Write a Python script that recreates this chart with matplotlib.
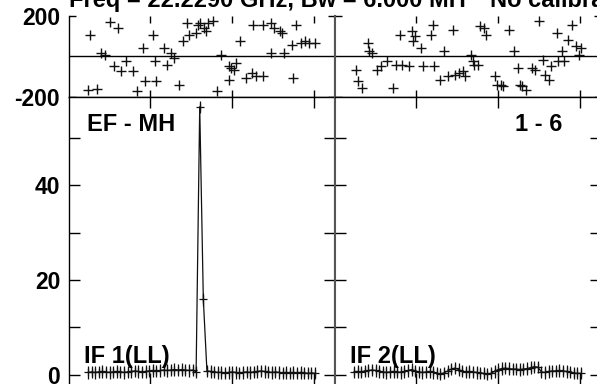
import matplotlib
matplotlib.use("Agg")
import matplotlib.pyplot as plt

plt.rcParams['font.family'] = ['Liberation Sans', 'DejaVu Sans']
plt.rcParams['font.weight'] = 'bold'
plt.rcParams['axes.unicode_minus'] = False

# channel / phase readings, IF 1 (left) and IF 2 (right)
if1_phase_ch = [0.9, 1.6, 3.5, 4.6, 5.7, 7.2, 8.3, 9.4, 10.2, 11.5, 13.6, 14.7, 16.2, 16.8,
                18.9, 19.6, 19.9, 22.1, 22.8, 24.0, 25.0, 26.3, 27.3, 28.4, 28.9, 31.1, 31.6,
                32.1, 33.2, 33.7, 34.2, 35.8, 36.9, 37.9, 40.0, 40.0, 40.6, 41.6, 42.2, 43.2,
                44.8, 46.4, 46.9, 47.5, 49.6, 49.6, 51.7, 51.7, 52.7, 54.3, 54.9, 55.4, 57.5,
                58.0, 58.6, 60.2, 61.2, 62.3, 63.9]
if1_phase = [-164, 107, -161, 16, 8, 167, -49, 139, -74, -25, -74, -172, 41, -123,
             107, -25, -123, 41, -41, 16, -8, -139, 74, 164, 107, 115, 156,
             164, 139, 123, 164, 172, -172, 8, -115, -49, -57, -66, -33, 74,
             -107, -82, 156, -98, -98, 156, 164, 16, 139, 123, 115, 16, 57,
             -107, 156, 66, 74, 66, 66]

if2_phase_ch = [1.6, 2.2, 3.2, 4.8, 5.3, 5.9, 7.5, 8.5, 10.1, 11.7, 12.7, 13.8, 14.3, 16.4,
                17.0, 17.5, 18.0, 19.6, 20.2, 22.3, 22.8, 23.3, 24.9, 26.0, 27.0, 28.6, 29.1,
                30.2, 31.2, 31.8, 33.4, 33.9, 34.4, 35.5, 36.0, 37.1, 37.6, 40.2, 40.8, 41.8,
                42.4, 43.9, 45.5, 46.6, 47.1, 47.6, 48.7, 50.3, 51.3, 52.4, 53.5, 54.0, 55.0,
                55.6, 57.2, 57.7, 58.8, 59.3, 60.4, 61.4, 62.5, 63.5, 64.1]
if2_phase = [-66, -123, -156, 66, 25, 16, -66, -49, -25, -156, -41, 107, -41, -49,
             123, 74, 98, 41, -49, 107, 156, -49, -115, 25, -98, 131, -90,
             -82, -74, -98, 8, -25, -41, -41, 148, 139, 107, -98, -139, -139,
             -148, 131, 25, -57, -139, -148, -164, -57, -66, 172, -16, -90, -115,
             -49, 115, -25, 25, -25, 82, 156, 49, 8, 41]

channels = list(range(1, 65))
if1_amp = [0.5, 0.6, 0.5, 0.6, 0.7, 0.6, 0.5, 0.6, 0.7, 0.6,
           0.5, 0.6, 0.7, 0.8, 0.7, 0.6, 0.7, 0.8, 0.9, 0.8,
           0.9, 1.0, 0.9, 1.0, 1.1, 1.0, 1.1, 1.0, 0.9, 1.0,
           0.6, 56.6, 15.9, 0.8, 0.7, 0.6, 0.5, 0.5, 0.4, 0.5,
           0.6, 0.5, 0.4, 0.5, 0.6, 0.5, 0.6, 0.7, 0.8, 0.7,
           0.6, 0.5, 0.6, 0.5, 0.4, 0.5, 0.4, 0.5, 0.4, 0.5,
           0.4, 0.3, 0.4, 0.3]
if2_amp = [0.6, 0.7, 0.6, 0.8, 0.9, 1.0, 0.9, 0.7, 0.6, 0.5,
           0.6, 0.7, 0.6, 0.5, 0.7, 0.9, 1.1, 0.8, 0.6, 0.5,
           0.6, 0.7, 0.5, 0.3, 0.2, 0.4, 0.8, 1.2, 1.4, 1.1,
           0.8, 0.6, 0.7, 0.6, 0.5, 0.4, 0.3, 0.2, 0.3, 0.7,
           1.1, 1.3, 1.4, 1.3, 1.2, 1.2, 1.1, 1.2, 1.3, 1.5,
           1.7, 1.6, 0.6, 0.5, 0.7, 0.8, 0.8, 0.9, 0.8, 0.7,
           0.6, 0.4, 0.3, 0.3]
amp_err = 1.3

W, H = 597, 384
fig = plt.figure(figsize=(W / 100, H / 100), dpi=100)


def px_axes(x0, y0, x1, y1):
    # pixel box (y from top) -> axes
    return fig.add_axes([x0 / W, 1 - y1 / H, (x1 - x0) / W, (y1 - y0) / H])


xlim = (-4.41, 69.4)
xticks = [18.2, 41.0, 63.8]
divider = '#555555'

panels = [
    (68.5, if1_phase_ch, if1_phase, if1_amp, 'IF 1(LL)'),
    (334.5, if2_phase_ch, if2_phase, if2_amp, 'IF 2(LL)'),
]

for i, (x0, pch, ph, amp, lab) in enumerate(panels):
    x1 = x0 + 266
    axp = px_axes(x0, 15.7, x1, 97)
    axa = px_axes(x0, 97, x1, 384)

    # phase
    axp.plot(pch, ph, ls='none', marker='+', ms=6.5, mew=1.0, color='#111111')
    axp.axhline(0, color='k', lw=1.0)
    axp.set_xlim(*xlim)
    axp.set_ylim(-200, 200)
    axp.set_xticks(xticks)
    axp.set_yticks([-200, 200])
    axp.spines['top'].set_visible(False)
    axp.tick_params(direction='in', length=5, width=1, top=True, right=True,
                    labelbottom=False, labelsize=16.5, pad=6)

    # amplitude
    axa.errorbar(channels, amp, yerr=amp_err, fmt='-', color='#111111', lw=0.9,
                 elinewidth=0.9, capsize=0, marker='+', ms=6, mew=0.9)
    axa.set_xlim(*xlim)
    axa.set_ylim(-1.96, 58.65)
    axa.set_xticks(xticks)
    axa.set_yticks([0, 20, 40])
    axa.set_yticks([10, 30, 50], minor=True)
    axa.spines['bottom'].set_visible(False)
    axa.tick_params(which='both', direction='in', length=8, width=1, top=True,
                    right=True, labelbottom=False, labelsize=16.5, pad=6)

    for ax in (axp, axa):
        for s in ax.spines.values():
            s.set_linewidth(1.0)
        if i == 0:
            ax.spines['right'].set_color(divider)
            ax.spines['right'].set_linewidth(1.5)
        else:
            ax.spines['left'].set_color(divider)
            ax.spines['left'].set_linewidth(1.5)
            ax.tick_params(labelleft=False)

    fig.text((x0 + 15) / W, 1 - 363.5 / H, lab, fontsize=17, weight='bold',
             va='baseline', ha='left')

fig.text(87 / W, 1 - 131 / H, 'EF - MH', fontsize=17, weight='bold', va='baseline')
fig.text(562 / W, 1 - 131 / H, '1 - 6', fontsize=17, weight='bold', va='baseline', ha='right')
fig.text(69 / W, 1 - 7 / H, 'Freq = 22.2290 GHz, Bw = 6.000 MH', fontsize=17,
         weight='bold', va='baseline')
fig.text(490 / W, 1 - 7 / H, 'No calibration applied', fontsize=17,
         weight='bold', va='baseline')

fig.savefig('out.png', dpi=100)
